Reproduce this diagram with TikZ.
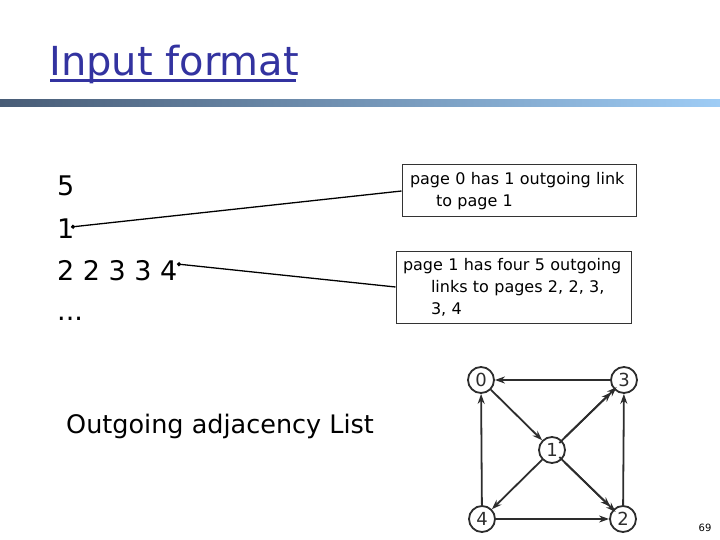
\documentclass[tikz,border=0pt]{standalone}
\usepackage{fontspec}
\setmainfont{DejaVu Sans}
\usetikzlibrary{positioning,arrows.meta}
\definecolor{titleblue}{RGB}{51,51,160}
\definecolor{barleft}{RGB}{72,92,118}
\definecolor{barright}{RGB}{158,204,245}
\definecolor{edgegray}{RGB}{45,45,45}

\tikzset{
  listtext/.style={anchor=base west, inner sep=0pt, font=\fontsize{27}{30}\selectfont},
  notebox/.style={draw=black!80, line width=1pt, align=left, inner ysep=0pt,
    font=\fontsize{16}{22}\selectfont},
  pagenode/.style={circle, draw=edgegray, line width=1.8pt, minimum size=26pt, inner sep=0pt,
    font=\fontsize{18}{18}\selectfont, text=edgegray},
  edge/.style={draw=edgegray, line width=1.8pt, -{Stealth[length=10pt,width=7pt]}},
  pointer/.style={draw=black, line width=1.3pt, {Circle[length=4pt]}-}
}

\begin{document}
\begin{tikzpicture}[x=1pt,y=-1pt]
\useasboundingbox (0,0) rectangle (720,540);

\node[anchor=base west, inner sep=0pt, text=titleblue, font=\fontsize{40}{42}\selectfont] (title) at (49,76) {Input format};
\draw[titleblue, line width=2.8pt] (title.south west) ++(1,-4) -- ++(246,0);
\fill[left color=barleft, right color=barright] (0,100) rectangle (720,107);

\node[listtext] (n5) at (57,196) {5};
\node[listtext] (n1) at (57,238) {1};
\node[listtext] (row) at (57,280) {2 2 3 3 4};
\node[listtext] (dots) at (57,320) {...};
\node[listtext, font=\fontsize{25.5}{28}\selectfont] (caption) at (66,433) {Outgoing adjacency List};

\node[notebox, text width=218pt, minimum height=52pt, inner xsep=8pt] (box1) at (519,191)
  {page 0 has 1 outgoing link\\\hspace*{26pt}to page 1};
\node[notebox, text width=221pt, minimum height=72pt, inner xsep=7pt] (box2) at (513.5,287)
  {page 1 has four 5 outgoing\\\hspace*{28pt}links to pages 2, 2, 3,\\\hspace*{28pt}3, 4};

\coordinate (dot1) at (71,227);
\coordinate (dot2) at (177,264);
\draw[pointer] (dot1) -- (box1.west);
\draw[pointer] (dot2) -- (box2.west);

\node[pagenode] (p0) at (481,380) {0};
\node[pagenode] (p3) at (624,380) {3};
\node[pagenode] (p1) at (552,450) {1};
\node[pagenode] (p4) at (482,519) {4};
\node[pagenode] (p2) at (623,519) {2};

\draw[edge] (p3) -- (p0);
\draw[edge] (p0) -- (p1);
\draw[edge, transform canvas={shift={(-2.6pt,-2.6pt)}}] (p1) -- (p3);
\draw[edge, transform canvas={shift={(2.6pt,2.6pt)}}] (p1) -- (p3);
\draw[edge, transform canvas={shift={(2.6pt,-2.6pt)}}] (p1) -- (p2);
\draw[edge, transform canvas={shift={(-2.6pt,2.6pt)}}] (p1) -- (p2);
\draw[edge] (p1) -- (p4);
\draw[edge] (p4) -- (p0);
\draw[edge] (p4) -- (p2);
\draw[edge] (p2) -- (p3);

\node[font=\fontsize{10}{10}\selectfont, inner sep=0pt] (pagenum) at (705,528) {69};
\end{tikzpicture}
\end{document}
